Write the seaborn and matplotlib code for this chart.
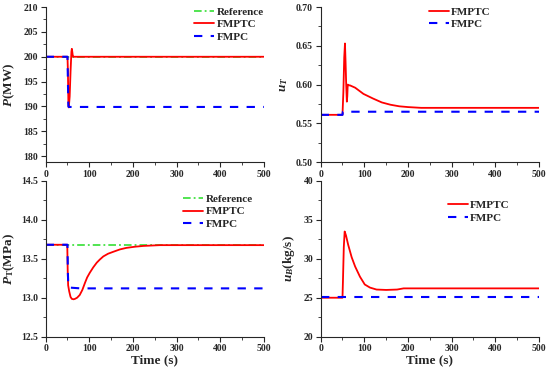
import numpy as np
import pandas as pd
import matplotlib
matplotlib.use("Agg")
import matplotlib.pyplot as plt
import seaborn as sns

# power P (MW)
p_ref_t = [0, 500]
p_ref = [200, 200]
p_fmptc_t = [0, 50, 51, 52, 53, 55, 57, 59, 60, 61, 62, 63, 65, 500]
p_fmptc = [200, 200, 197, 191, 189.8, 192, 197, 201, 201.6, 201, 200.3, 200, 200, 200]
p_fmpc_t = [0, 50, 51, 52, 53, 500]
p_fmpc = [200, 200, 195, 190, 189.9, 189.9]

# valve uT
ut_fmptc_t = [0, 50, 52, 54, 55.7, 57, 58.5, 60, 61, 62, 65, 67, 79, 98, 120, 140, 160, 180, 200, 230, 300, 500]
ut_fmptc = [0.561, 0.561, 0.59, 0.635, 0.653, 0.63, 0.60, 0.578, 0.585, 0.600, 0.599, 0.599, 0.596, 0.588,
            0.582, 0.577, 0.574, 0.572, 0.571, 0.570, 0.570, 0.570]
ut_fmpc_t = [0, 50, 51, 500]
ut_fmpc = [0.561, 0.561, 0.565, 0.565]

# throttle pressure PT (MPa)
pt_ref_t = [0, 500]
pt_ref = [13.68, 13.68]
pt_fmptc_t = [0, 49.5, 50.5, 51.5, 54, 57, 60, 64, 67, 72, 78, 84, 90, 95, 101, 109, 117, 124, 132, 143,
              155, 170, 185, 205, 224, 262, 300, 500]
pt_fmptc = [13.68, 13.68, 13.35, 13.16, 13.08, 13.01, 12.985, 12.98, 12.985, 13.0, 13.035, 13.1, 13.19,
            13.26, 13.32, 13.39, 13.45, 13.49, 13.53, 13.565, 13.59, 13.62, 13.64, 13.655, 13.665,
            13.675, 13.675, 13.675]
pt_fmpc_t = [0, 50, 51, 52, 55, 80, 500]
pt_fmpc = [13.68, 13.68, 13.3, 13.14, 13.13, 13.12, 13.12]

# fuel uB (kg/s)
ub_fmptc_t = [0, 50, 51, 53, 55, 58, 63, 71, 79, 90, 101, 113, 128, 150, 175, 190, 500]
ub_fmptc = [25.0, 25.0, 27.0, 31.5, 33.5, 33.0, 31.8, 30.2, 29.0, 27.7, 26.7, 26.3, 26.05, 26.0, 26.05, 26.2, 26.2]
ub_fmpc_t = [0, 500]
ub_fmpc = [25.1, 25.1]

sns.set_theme(style="ticks")
plt.rcParams["font.family"] = ["Liberation Serif", "DejaVu Serif"]
plt.rcParams["font.weight"] = "bold"
plt.rcParams["mathtext.fontset"] = "custom"
plt.rcParams["mathtext.rm"] = "Liberation Serif:bold"
plt.rcParams["mathtext.it"] = "Liberation Serif:italic:bold"
plt.rcParams["axes.linewidth"] = 0.8

GREEN = "#22dd22"
RED = "#ff0000"
BLUE = "#0000ff"

fig = plt.figure(figsize=(5.5, 3.71), dpi=100)
axs = [
    fig.add_axes([0.083, 0.563, 0.397, 0.418]),
    fig.add_axes([0.583, 0.563, 0.397, 0.418]),
    fig.add_axes([0.083, 0.0925, 0.397, 0.42]),
    fig.add_axes([0.583, 0.0925, 0.397, 0.42]),
]


def draw(ax, t, v, kind, label):
    df = pd.DataFrame({"t": t, "v": v})
    if kind == "ref":
        sns.lineplot(data=df, x="t", y="v", ax=ax, color=GREEN, lw=1.1, label=label,
                     estimator=None, sort=False)
        ax.lines[-1].set_dashes([5, 2, 1.2, 2])
    elif kind == "fmptc":
        sns.lineplot(data=df, x="t", y="v", ax=ax, color=RED, lw=1.3, label=label,
                     estimator=None, sort=False)
    else:
        sns.lineplot(data=df, x="t", y="v", ax=ax, color=BLUE, lw=1.5, label=label,
                     estimator=None, sort=False)
        ax.lines[-1].set_dashes([4, 4])


draw(axs[0], p_ref_t, p_ref, "ref", "Reference")
draw(axs[0], p_fmptc_t, p_fmptc, "fmptc", "FMPTC")
draw(axs[0], p_fmpc_t, p_fmpc, "fmpc", "FMPC")

draw(axs[1], ut_fmptc_t, ut_fmptc, "fmptc", "FMPTC")
draw(axs[1], ut_fmpc_t, ut_fmpc, "fmpc", "FMPC")

draw(axs[2], pt_ref_t, pt_ref, "ref", "Reference")
draw(axs[2], pt_fmptc_t, pt_fmptc, "fmptc", "FMPTC")
draw(axs[2], pt_fmpc_t, pt_fmpc, "fmpc", "FMPC")

draw(axs[3], ub_fmptc_t, ub_fmptc, "fmptc", "FMPTC")
draw(axs[3], ub_fmpc_t, ub_fmpc, "fmpc", "FMPC")

ylims = [(178.8, 210), (0.50, 0.70), (12.5, 14.5), (20, 40)]
ysteps = [5, 0.05, 0.5, 5]
yfmts = ["%d", "%.2f", "%.1f", "%d"]
ylabels = [r"$P$(MW)", r"$u_T$", r"$P_\mathrm{T}$(MPa)", r"$u_B$(kg/s)"]
ylab_x = [-0.13, -0.14, -0.13, -0.11]
leg_pos = [(0.68, 1.0), (0.496, 1.0), (0.63, 0.915), (0.583, 0.875)]

for i, ax in enumerate(axs):
    ax.set_xlim(0, 500)
    ax.set_ylim(*ylims[i])
    ax.set_xticks(np.arange(0, 501, 100))
    ax.set_xticks(np.arange(0, 501, 50), minor=True)
    lo = ylims[i][1] - ysteps[i] * round((ylims[i][1] - ylims[i][0]) / ysteps[i] - 0.49)
    ax.set_yticks(np.arange(lo, ylims[i][1] + 1e-9, ysteps[i]))
    ax.set_yticks(np.arange(lo - ysteps[i] / 2, ylims[i][1] + 1e-9, ysteps[i] / 2), minor=True)
    ax.yaxis.set_major_formatter(matplotlib.ticker.FormatStrFormatter(yfmts[i]))
    ax.set_ylim(*ylims[i])
    ax.tick_params(axis="both", which="major", direction="out", length=3.5, width=0.8,
                   labelsize=7, pad=2)
    ax.tick_params(axis="both", which="minor", direction="out", length=2, width=0.6)
    sns.despine(ax=ax)
    ax.set_ylabel(ylabels[i], fontsize=9.5, fontweight="bold")
    ax.yaxis.set_label_coords(ylab_x[i], 0.5)
    ax.set_xlabel("Time (s)" if i >= 2 else "", fontsize=9.5, fontweight="bold", labelpad=1)
    ax.legend(loc="upper left", bbox_to_anchor=leg_pos[i], frameon=False,
              handlelength=1.8, handletextpad=0.2, labelspacing=0.25, borderpad=0,
              borderaxespad=0, prop={"weight": "bold", "size": 8})

fig.savefig("out.png", dpi=100)
